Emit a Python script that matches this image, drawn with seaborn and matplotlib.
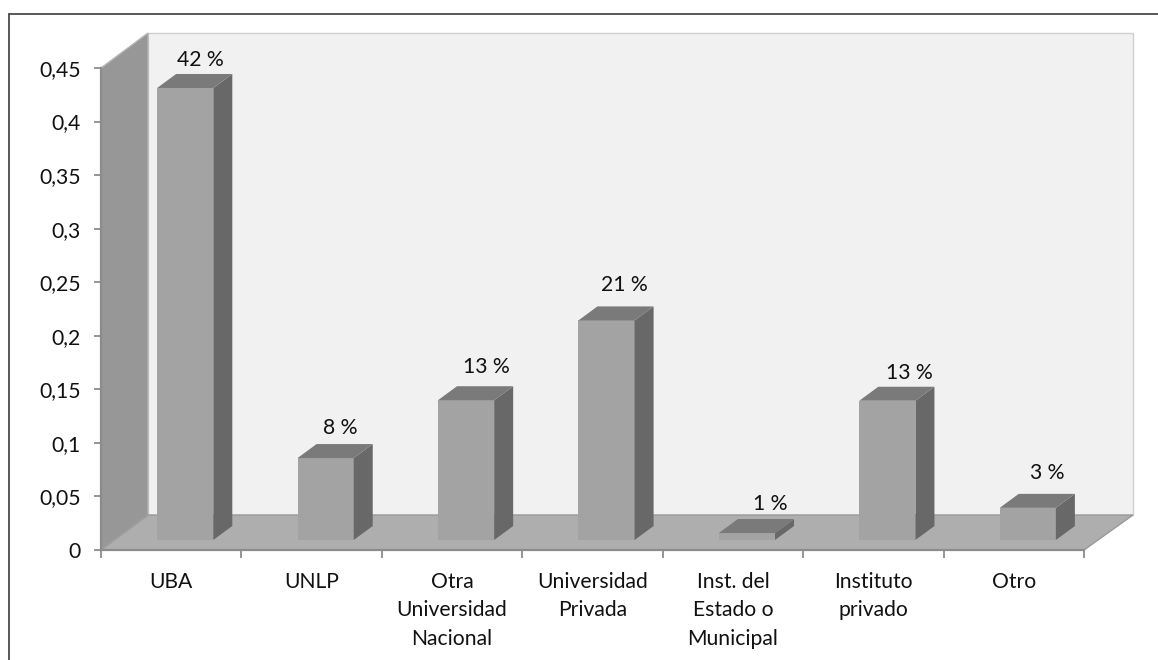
import numpy as np
import matplotlib
matplotlib.use("Agg")
import matplotlib.pyplot as plt
from matplotlib.lines import Line2D
from matplotlib.patches import Polygon
import seaborn as sns

# ── DATA ───────────────────────────────────────────────────────
CATEGORIES = ["UBA", "UNLP", "Otra\nUniversidad\nNacional", "Universidad\nPrivada",
              "Inst. del\nEstado o\nMunicipal", "Instituto\nprivado", "Otro"]
VALUES = [0.422, 0.0765, 0.1305, 0.205, 0.0065, 0.130, 0.030]
LABELS = ["42 %", "8 %", "13 %", "21 %", "1 %", "13 %", "3 %"]
YTICKS = [0, 0.05, 0.1, 0.15, 0.2, 0.25, 0.3, 0.35, 0.4, 0.45]
YTICK_LABELS = ["0", "0,05", "0,1", "0,15", "0,2", "0,25", "0,3", "0,35", "0,4", "0,45"]
# hand placed label offsets in pixels, from the front top centre of each bar
LABEL_DX = [15, 15, 20, 17.5, 23, 22, 19]
LABEL_DY = [27.5, 30, 33, 35, 29, 28, 35]

# ── STYLE ──────────────────────────────────────────────────────
W, H = 1158, 660
FRONT = "#a3a3a3"; SIDE = "#686868"; TOP = "#7a7a7a"
WALL = "#979797"; FLOOR = "#aeaeae"; BACK = "#f1f1f1"; AXIS = "#8c8c8c"
INK = "#111111"; FRAME = "#4a4a4a"
FS = 15.2

sns.set_theme(style="white")
plt.rcParams["font.family"] = ["Lato", "DejaVu Sans"]
plt.rcParams["font.size"] = FS

fig = plt.figure(figsize=(W/100, H/100), dpi=100, facecolor="white")
ax = fig.add_axes([101/W, 1-550/H, 983/W, 482/H])

# outer frame, only top and left show in the picture
fig.add_artist(Line2D([8.5/W, 8.5/W], [0, 1-14/H], color=FRAME, lw=1.3))
fig.add_artist(Line2D([8.5/W, 1], [1-14/H, 1-14/H], color=FRAME, lw=1.3))

sns.barplot(x=CATEGORIES, y=VALUES, color=FRONT, saturation=1, width=0.4,
            edgecolor="none", linewidth=0, ax=ax)
ax.set_xlim(-0.5, 6.5)
ax.set_ylim(0, 0.45)

# depth of the fake 3D in data units
WALL_DX, WALL_DY = 47/140.4, 35/1071
RIGHT_DX = 49/140.4
BAR_DX, BAR_DY = 19/140.4, 14/1071
SHIFT_X, BASE = 14/140.4, 10/1071

x0, x1 = -0.5, 6.5
ymax = 0.45
def poly(pts, color, z, edge="none", lw=0):
    ax.add_patch(Polygon(pts, closed=True, facecolor=color, edgecolor=edge, lw=lw,
                         zorder=z, clip_on=False))

poly([(x0+WALL_DX, WALL_DY), (x1+RIGHT_DX, WALL_DY), (x1+RIGHT_DX, ymax+WALL_DY), (x0+WALL_DX, ymax+WALL_DY)],
     BACK, 0.3, edge="#cfcfcf", lw=1)
poly([(x0, 0), (x0+WALL_DX, WALL_DY), (x0+WALL_DX, ymax+WALL_DY), (x0, ymax)], WALL, 0.4, edge="#b5b5b5", lw=1)
poly([(x0, 0), (x0+WALL_DX, WALL_DY), (x1+RIGHT_DX, WALL_DY), (x1, 0)], FLOOR, 0.5, edge="#9a9a9a", lw=1)

# seaborn gives the front faces, move them off the axis and add side and top
for i, (patch, val) in enumerate(zip(ax.patches[:len(VALUES)], VALUES)):
    patch.set_x(patch.get_x()+SHIFT_X)
    patch.set_y(BASE)
    patch.set_zorder(2)
    patch.set_clip_on(False)
    l = patch.get_x(); r = l+patch.get_width()
    top = BASE+val
    poly([(r, BASE), (r+BAR_DX, BASE+BAR_DY), (r+BAR_DX, top+BAR_DY), (r, top)], SIDE, 2)
    poly([(l, top), (r, top), (r+BAR_DX, top+BAR_DY), (l+BAR_DX, top+BAR_DY)], TOP, 2)
    ax.annotate(LABELS[i], ((l+r)/2, top), xytext=(LABEL_DX[i], LABEL_DY[i]),
                textcoords="offset pixels", ha="center", va="center",
                fontsize=FS, color=INK, annotation_clip=False)

# ticks: y normal, x ticks on the category borders and text on the centres
ax.set_yticks(YTICKS, YTICK_LABELS)
ax.set_xticks(range(len(CATEGORIES)), CATEGORIES, linespacing=1.55)
ax.set_xticks(np.arange(x0, x1+0.5), minor=True)
ax.tick_params(axis="y", length=5, width=1.3, color=AXIS, labelcolor=INK, labelsize=FS, pad=9.5, left=True)
ax.tick_params(axis="x", which="major", length=0, labelcolor=INK, labelsize=FS, pad=15.5)
ax.tick_params(axis="x", which="minor", length=6, width=1.3, color=AXIS, bottom=True)

for s in ["top", "right"]:
    ax.spines[s].set_visible(False)
for s in ["left", "bottom"]:
    ax.spines[s].set_color(AXIS)
    ax.spines[s].set_linewidth(1.6)
ax.set_xlabel(""); ax.set_ylabel("")

fig.savefig("out.png", dpi=100, facecolor="white")
